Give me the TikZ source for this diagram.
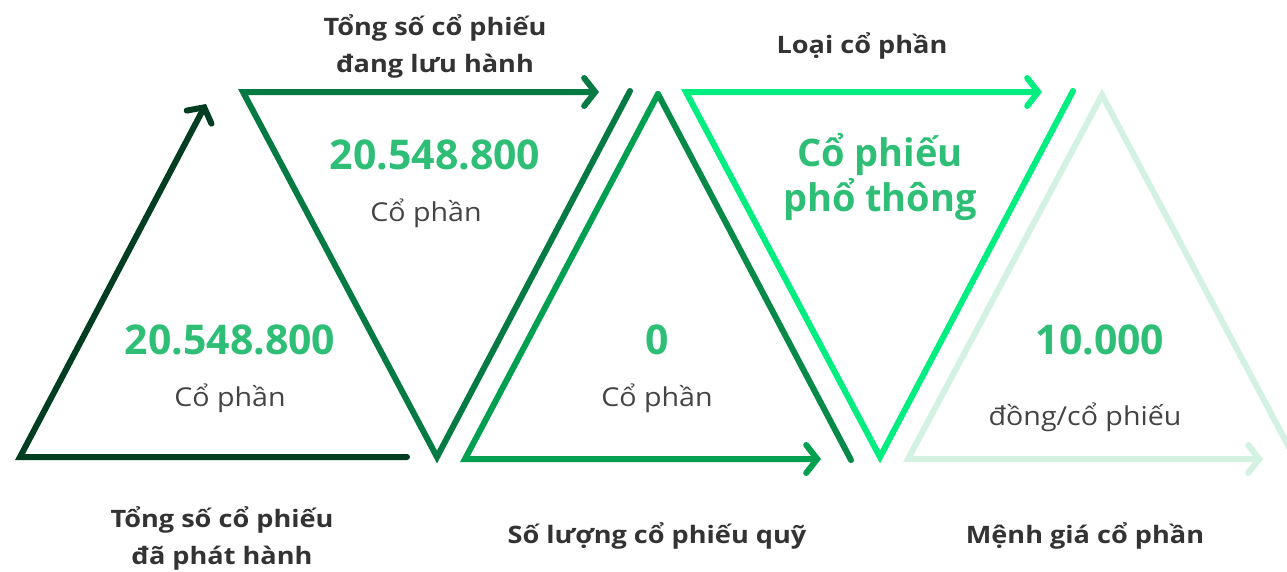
\documentclass[tikz,border=0pt]{standalone}
\usepackage{fontspec}
\setmainfont{Open Sans}
\newfontfamily\widefont[FakeStretch=1.13]{Open Sans}
\newfontfamily\widereg[FakeStretch=1.1]{Open Sans}
\usetikzlibrary{arrows.meta}
\definecolor{cA}{HTML}{013D20}
\definecolor{cB}{HTML}{067A43}
\definecolor{cC}{HTML}{00A050}
\definecolor{cCd}{HTML}{078A48}
\definecolor{cD}{HTML}{00EE80}
\definecolor{cE}{HTML}{D3F2E2}
\definecolor{numg}{HTML}{2EBE76}
\definecolor{txt}{HTML}{333333}
\definecolor{unit}{HTML}{444444}
\tikzset{
  edge/.style={line width=6pt,line cap=round,line join=miter},
  arr/.style={edge,-{Straight Barb[length=11pt,width=28pt,line cap=round]}},
  title/.style={font=\widefont\fontsize{24}{37}\selectfont\bfseries,text=txt,align=center,inner sep=0pt},
  num/.style={font=\fontsize{41}{44}\selectfont\bfseries,text=numg,inner sep=0pt},
  big/.style={font=\fontsize{38}{45}\selectfont\bfseries,text=numg,align=center,inner sep=0pt},
  unitlbl/.style={font=\widereg\fontsize{26}{30}\selectfont,text=unit,inner sep=0pt}
}
\begin{document}
\begin{tikzpicture}[x=1pt,y=-1pt]
\useasboundingbox (0,0) rectangle (1287,571);
% coordinates
\coordinate (a1) at (407,457); \coordinate (a2) at (20,457); \coordinate (a3) at (206,104);
\coordinate (b1) at (630,91); \coordinate (b2) at (437,457); \coordinate (b3) at (243,92); \coordinate (b4) at (599,92);
\coordinate (c1) at (851,460); \coordinate (c2) at (658,94); \coordinate (c3) at (465,459); \coordinate (c4) at (821,459);
\coordinate (d1) at (1073,91); \coordinate (d2) at (880,457); \coordinate (d3) at (686,92); \coordinate (d4) at (1042,92);
\coordinate (e1) at (1300,468); \coordinate (e2) at (1102,95); \coordinate (e3) at (908,459); \coordinate (e4) at (1263,459);
% shapes
\draw[arr,cA] (a1) -- (a2) -- (a3);
\draw[arr,cB] (b1) -- (b2) -- (b3) -- (b4);
\draw[edge,cCd] (c1) -- (c2);
\draw[arr,cC] (c2) -- (c3) -- (c4);
\draw[arr,cD] (d1) -- (d2) -- (d3) -- (d4);
\draw[arr,cE] (e1) -- (e2) -- (e3) -- (e4);
% labels
\node[title] (t1) at (222,538) {Tổng số cổ phiếu\\đã phát hành};
\node[num] (n1) at (230,340) {20.548.800};
\node[unitlbl] (u1) at (230,398) {Cổ phần};
\node[title] (t2) at (435,46) {Tổng số cổ phiếu\\đang lưu hành};
\node[num] (n2) at (435,155) {20.548.800};
\node[unitlbl] (u2) at (426,213) {Cổ phần};
\node[title] (t3) at (657,536) {Số lượng cổ phiếu quỹ};
\node[num] (n3) at (657,340) {0};
\node[unitlbl] (u3) at (657,398) {Cổ phần};
\node[title] (t4) at (862,46) {Loại cổ phần};
\node[big] (n4) at (880,177) {Cổ phiếu\\phổ thông};
\node[title] (t5) at (1085,536) {Mệnh giá cổ phần};
\node[num] (n5) at (1100,340) {10.000};
\node[unitlbl] (u5) at (1085,417) {đồng/cổ phiếu};
\end{tikzpicture}
\end{document}
